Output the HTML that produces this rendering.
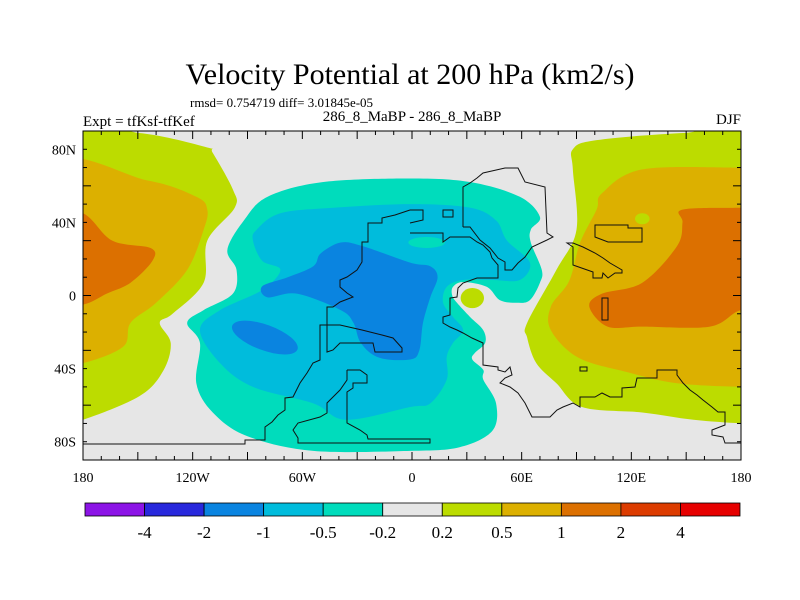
<!DOCTYPE html>
<html><head><meta charset="utf-8">
<style>
html,body{margin:0;padding:0;background:#fff;}
svg{display:block;font-family:"Liberation Serif",serif;}
</style></head>
<body>
<svg id="chart" width="800" height="600" viewBox="0 0 800 600">
<text x="410" y="84" text-anchor="middle" font-size="30">Velocity Potential at 200 hPa (km2/s)</text>
<text x="190" y="107" font-size="13">rmsd= 0.754719 diff= 3.01845e-05</text>
<text x="83" y="126" font-size="15">Expt = tfKsf-tfKef</text>
<text x="412" y="121" text-anchor="middle" font-size="15">286_8_MaBP - 286_8_MaBP</text>
<text x="741" y="124" text-anchor="end" font-size="15">DJF</text>
<defs><clipPath id="clip"><rect x="83" y="131" width="658" height="329"/></clipPath></defs>
<g id="plot" clip-path="url(#clip)"></g>
<g id="coast" clip-path="url(#clip)"></g>
<g id="axes"></g>
<g id="cbar"></g>
</svg>
<script>
const levels = ["-4","-2","-1","-0.5","-0.2","0.2","0.5","1","2","4"];
const levelColors = ["#8c14e6","#2828dc","#0a84e0","#00bcdc","#00dcbc","#e6e6e6","#bcdc00","#dcb000","#dc7000","#dc3c00","#e60000"];
const xTickLabels = ["180","120W","60W","0","60E","120E","180"];
const xTickLons = [-180,-120,-60,0,60,120,180];
const yTickLabels = ["80N","40N","0","40S","80S"];
const yTickLats = [80,40,0,-40,-80];
// filled contour regions [lon,lat] with colour-level index
const leftYellow = [[-200,89.5],[-150,89],[-112,81],[-109,78],[-98,58],[-97,48],[-112,30],[-114,7],[-131,-10],[-138,-15],[-132,-26],[-136,-41],[-149,-55],[-180,-68],[-200,-72]];
const leftGold = [[-200,69],[-145,63],[-118,54],[-112,47],[-114,36],[-123,14],[-140,-4],[-154,-15],[-158,-28],[-180,-37],[-200,-38]];
const leftOrange = [[-200,46],[-180,45],[-164,30],[-143,26],[-142,19],[-154,7],[-167,1],[-180,-5],[-200,-6]];
const rightYellow = [[200,89.5],[150,89],[101,85],[88,80],[88,69],[90,36],[79,14],[63,-15],[63,-23],[68,-37],[79,-48],[93,-61],[126,-64],[154,-68],[180,-70],[200,-71]];
const rightGold = [[200,70],[180,70],[126,69],[104,56],[101,47],[92,29],[86,8],[76,-6],[76,-19],[91,-34],[118,-42],[145,-48],[180,-50],[200,-50]];
const rightOrange = [[200,48],[180,48],[148,47],[148,40],[145,27],[126,7],[104,1],[97,-6],[107,-17],[126,-17],[163,-17],[180,-8],[200,-8]];
const tealRegion = [[-79,54],[-49,62],[-1,64],[32,62],[59,54],[70,43],[65,36],[65,29],[71,14],[70,7],[64.5,-2.5],[57.4,-4],[48,-2.5],[41,4.7],[28,7.4],[22.4,4.7],[22,0],[24.6,-4],[31.7,-11.7],[39,-19],[40,-26],[34.4,-31.4],[33,-35],[39,-40.7],[39,-46],[46,-59],[44,-74],[26,-83],[-1,-85],[-54,-85],[-90,-77],[-109,-64],[-118,-48],[-116,-26],[-123,-15],[-114,-8],[-98,1],[-96,14],[-101,25],[-92,41]];
const cyanRegion = [[-85,36],[-72,45],[-43,48],[-1,50],[32,48],[46,41],[52,30],[64.5,18],[59,8.5],[44,8.5],[28,8.5],[19,4.7],[17,-4],[22.4,-11.7],[28,-19],[22.4,-26],[19,-33.6],[19,-46],[10,-59],[-1,-61],[-36,-68],[-54,-59],[-87,-50],[-105,-37],[-116,-19],[-105,-8],[-82,3],[-72,14],[-82,19],[-87,30]];
const blueRegion = [[-50,23],[-39,29],[-27,27],[-1,18],[10,16],[14,10],[10,-1],[6,-15],[4,-30],[-1,-35],[-18,-34],[-28,-26],[-32,-15],[-39,-8],[-63,1],[-79,-1],[-82,5],[-68,10],[-54,16]];
const regions = [[leftYellow,6],[leftGold,7],[leftOrange,8],[rightYellow,6],[rightGold,7],[rightOrange,8],[tealRegion,4],[cyanRegion,3],[blueRegion,2]];
// ellipse features: [lon, lat], [rxDeg, ryDeg], rotation, level
const ellipseCenters = [[126,42],[8,29],[-80.5,-23],[33,-1.4]];
const ellipseRadii = [[4,3],[10,3],[19,7],[6.4,5.5]];
const ellipseRot = [0,0,20,0];
const ellipseLevel = [6,4,2,6];

const X0=83,X1=741,Y0=131,Y1=460;
const xs = lon => X0 + (lon+180)/360*(X1-X0);
const ys = lat => Y0 + (90-lat)/180*(Y1-Y0);
const NS="http://www.w3.org/2000/svg";
function mk(tag, attrs, parent){const e=document.createElementNS(NS,tag);for(const k in attrs)e.setAttribute(k,attrs[k]);parent.appendChild(e);return e;}
function smooth(pts){
  const p=pts.map(q=>[xs(q[0]),ys(q[1])]);const n=p.length;
  let d=`M${p[0][0]},${p[0][1]}`;
  for(let i=0;i<n;i++){
    const a=p[(i-1+n)%n],b=p[i],c=p[(i+1)%n],e=p[(i+2)%n];
    const c1=[b[0]+(c[0]-a[0])/6,b[1]+(c[1]-a[1])/6],c2=[c[0]-(e[0]-b[0])/6,c[1]-(e[1]-b[1])/6];
    d+=`C${c1[0]},${c1[1]} ${c2[0]},${c2[1]} ${c[0]},${c[1]}`;
  }
  return d+"Z";
}
const plot=document.getElementById('plot');
const bg=mk('rect',{x:X0,y:Y0,width:X1-X0,height:Y1-Y0,fill:levelColors[5]},plot);


regions.forEach((r,i)=>{
  const p=mk('path',{d:smooth(r[0]),fill:levelColors[r[1]]},plot);
  
  
});
ellipseCenters.forEach((c,i)=>{
  const cx=xs(c[0]),cy=ys(c[1]);
  const e=mk('ellipse',{cx:cx,cy:cy,rx:xs(ellipseRadii[i][0])-xs(0),ry:ys(0)-ys(ellipseRadii[i][1]),fill:levelColors[ellipseLevel[i]],transform:`rotate(${ellipseRot[i]} ${cx} ${cy})`},plot);
  
  
});
// coastlines (base map, pixel space)
const coastLines = [
 "M410,210 395,215 382,218 382,223 368,223 368,242 362,242 362,262 357,270 347,277 340,280 340,287 347,293 353,297 340,302 333,307 327,307 327,352 333,350 340,343 373,343 375,352 402,352 402,348 393,338 382,335 362,330 340,325 320,325 320,360 313,363 307,373 300,383 293,397 285,398 285,410 278,415 272,422 265,427 265,440 245,440 245,444 83,444",
 "M347,370 360,370 367,375 367,383 353,383 353,388 347,392 347,423 360,430 367,435 368,439 430,439 430,443 298,443 298,438 293,430 298,423 320,417 327,413 327,403 333,397 340,390 347,380 347,370",
 "M410,210 423,210 423,220 410,223",
 "M410,233 443,233 443,242 450,237 470,237 477,242 483,245 490,252 492,258 498,265 498,278 477,278 463,283 458,288 457,297 450,298 450,315 443,317 443,323 450,327 457,330 463,333 472,338 483,343 483,365 498,367 498,370 505,372 510,367 512,375 505,378 500,383 510,387 518,393 525,403 532,417 550,417 557,410 563,407 573,403 580,407 580,397 595,397 602,393 610,397 622,397 622,388 635,387 637,378 657,378 657,370 677,370 677,375 683,383 690,390 697,395 703,400 712,407 718,412 725,412 725,425 712,430 712,435 723,437 725,443 742,443",
 "M463,227 463,187 470,183 477,178 483,173 505,168 518,168 525,182 545,187 547,233 553,237 547,240 532,247 525,257 518,263 512,270 505,270 505,262 498,258 490,248 480,240 470,227 463,227",
 "M595,225 628,225 628,228 642,228 642,242 608,242 595,237 Z",
 "M567,243 573,247 573,265 593,272 593,278 602,278 603,273 608,278 615,273 622,273 622,270 610,263 603,258 595,253 583,247 573,243 Z",
 "M602,298 608,298 608,320 602,320 Z",
 "M580,367 587,367 587,371 580,371 Z",
 "M443,210 453,210 453,217 443,217 Z"
];
const coast=document.getElementById('coast');
coastLines.forEach((d,i)=>{
  const p=mk('path',{d:d,fill:'none',stroke:'#111','stroke-width':1},coast);
  
  
});
// axes
const ax=document.getElementById('axes');
mk('rect',{x:X0,y:Y0,width:X1-X0,height:Y1-Y0,fill:'none',stroke:'#000','stroke-width':1},ax);
for(let lon=-180;lon<=180;lon+=10){
  const L=lon%30===0?8:4,x=xs(lon);
  mk('line',{x1:x,y1:Y1,x2:x,y2:Y1-L,stroke:'#000'},ax);
  mk('line',{x1:x,y1:Y0,x2:x,y2:Y0+L,stroke:'#000'},ax);
}
for(let lat=-90;lat<=90;lat+=10){
  const L=lat%30===0?8:4,y=ys(lat);
  mk('line',{x1:X0,y1:y,x2:X0+L,y2:y,stroke:'#000'},ax);
  mk('line',{x1:X1,y1:y,x2:X1-L,y2:y,stroke:'#000'},ax);
}
xTickLabels.forEach((t,i)=>{
  const e=mk('text',{x:xs(xTickLons[i]),y:482,'text-anchor':'middle','font-size':14},ax);
  e.textContent=t;
  
  
});
yTickLabels.forEach((t,i)=>{
  const e=mk('text',{x:76,y:ys(yTickLats[i])+5,'text-anchor':'end','font-size':14},ax);
  e.textContent=t;
  
  
});
// colorbar
const cb=document.getElementById('cbar');
const CB0=85,CB1=740,nb=levelColors.length,bw=(CB1-CB0)/nb;
levelColors.forEach((c,i)=>{
  const r=mk('rect',{x:CB0+i*bw,y:503,width:bw,height:13,fill:c,stroke:'#000','stroke-width':0.8},cb);
  
  
});
levels.forEach((t,i)=>{
  const e=mk('text',{x:CB0+(i+1)*bw,y:538,'text-anchor':'middle','font-size':17},cb);
  e.textContent=t;
  
  
});
</script>
</body></html>
